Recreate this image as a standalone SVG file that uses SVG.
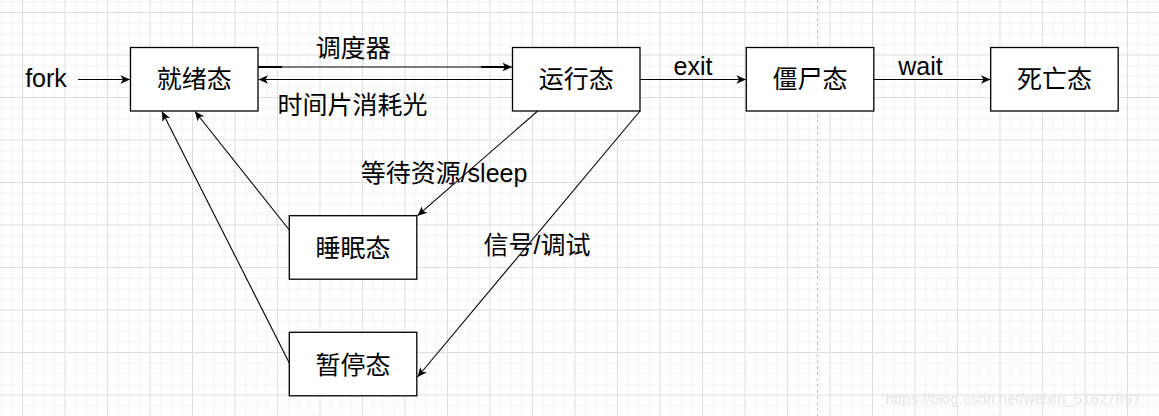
<svg xmlns="http://www.w3.org/2000/svg" width="1159" height="416" viewBox="0 0 1159 416">
<style>
.node rect{fill:#ffffff;stroke:#000000;stroke-width:1.3}
text{font-family:"Liberation Sans","Noto Sans CJK SC",sans-serif;font-size:25px;fill:#000000}
.t{text-anchor:middle}
.edge{fill:none;stroke:#000000;stroke-width:1.1}
.minor{stroke:#f1f1f1;stroke-width:1}
.major{stroke:#dedede;stroke-width:1}
</style>
<defs>
<pattern id="grid" patternUnits="userSpaceOnUse" x="22" y="12" width="42.5" height="42.5">
<path class="minor" d="M11.125,0V42.5M21.75,0V42.5M32.375,0V42.5M0,11.125H42.5M0,21.75H42.5M0,32.375H42.5"/>
<path class="major" d="M0.5,0V42.5M0,0.5H42.5"/>
</pattern>
<marker id="arr" markerUnits="userSpaceOnUse" markerWidth="12" markerHeight="12" viewBox="-10 -6 12 12" refX="0" refY="0" orient="auto">
<path d="M0,0 L-9.5,-4.3 L-7,0 L-9.5,4.3 Z" fill="#000000"/>
</marker>
</defs>
<rect x="0" y="0" width="1159" height="416" fill="#ffffff"/>
<rect x="0" y="0" width="1159" height="416" fill="url(#grid)"/>
<line x1="817.5" y1="0" x2="817.5" y2="416" stroke="#c4c4c4" stroke-width="1" stroke-dasharray="3,3"/>
<text x="1013" y="404" class="t" style="font-size:15px;fill:#e6e6e6">https://blog.csdn.net/weixin_51627897</text>

<g id="connectors">
<line class="edge" x1="78" y1="79.5" x2="130" y2="79.5" marker-end="url(#arr)"/>
<line class="edge" x1="258" y1="67" x2="512" y2="67" marker-end="url(#arr)"/>
<line x1="258" y1="67" x2="282" y2="67" stroke="#000" stroke-width="2"/>
<line x1="481" y1="67" x2="505" y2="67" stroke="#000" stroke-width="2"/>
<line class="edge" x1="512.5" y1="79.5" x2="258.5" y2="79.5" marker-end="url(#arr)"/>
<line class="edge" x1="640" y1="79.5" x2="746" y2="79.5" marker-end="url(#arr)"/>
<line class="edge" x1="874" y1="79.5" x2="990.5" y2="79.5" marker-end="url(#arr)"/>
<line class="edge" x1="537.7" y1="111" x2="417.5" y2="215.7" marker-end="url(#arr)"/>
<line class="edge" x1="640" y1="111" x2="417.5" y2="377" marker-end="url(#arr)"/>
<line class="edge" x1="289.3" y1="230" x2="195" y2="111.5" marker-end="url(#arr)"/>
<line class="edge" x1="289.3" y1="363" x2="162" y2="111.5" marker-end="url(#arr)"/>
<text x="46" y="87" class="t">fork</text>
<text x="353.3" y="56.5" class="t">调度器</text>
<text x="352.5" y="113.5" class="t">时间片消耗光</text>
<text x="693" y="74.5" class="t">exit</text>
<text x="920.5" y="74.5" class="t">wait</text>
<text x="444" y="182" class="t">等待资源/sleep</text>
<text x="537" y="254" class="t">信号/调试</text>
</g>

<g id="ready" class="node">
<rect x="130.5" y="47.5" width="127.5" height="63.5"/>
<text x="194.2" y="88" class="t">就绪态</text>
</g>
<g id="running" class="node">
<rect x="512.5" y="47.5" width="127.5" height="63.5"/>
<text x="576.2" y="88" class="t">运行态</text>
</g>
<g id="zombie" class="node">
<rect x="746.3" y="47.5" width="127.5" height="63.5"/>
<text x="810" y="88" class="t">僵尸态</text>
</g>
<g id="dead" class="node">
<rect x="990.7" y="47.5" width="127.5" height="63.5"/>
<text x="1054.5" y="88" class="t">死亡态</text>
</g>
<g id="sleeping" class="node">
<rect x="289.3" y="215.7" width="127.5" height="63.5"/>
<text x="353" y="256.5" class="t">睡眠态</text>
</g>
<g id="stopped" class="node">
<rect x="289.3" y="332.3" width="127.5" height="63.5"/>
<text x="353" y="374" class="t">暂停态</text>
</g>
</svg>
